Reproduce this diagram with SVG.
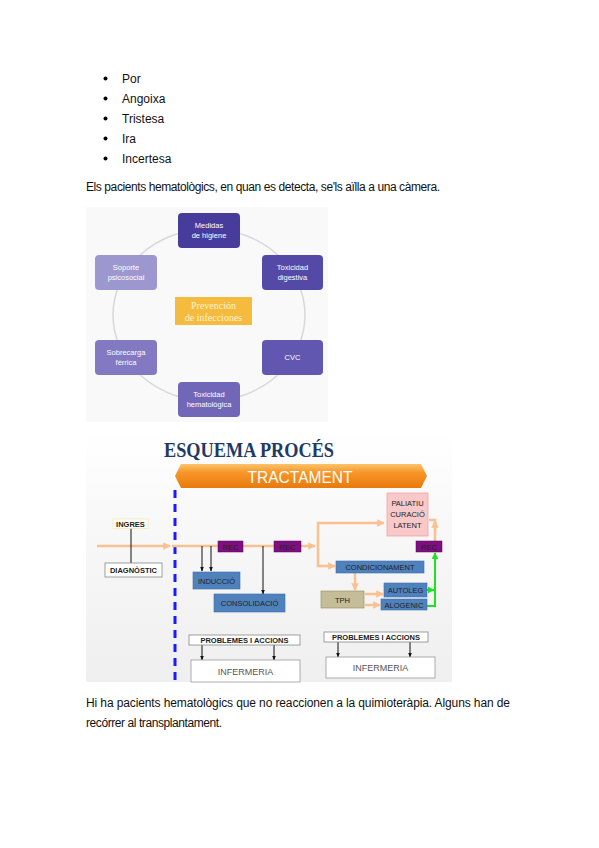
<svg xmlns="http://www.w3.org/2000/svg" width="599" height="848" viewBox="0 0 599 848">
<style>
.t{font-family:"Liberation Sans",Arial,sans-serif;font-size:12px;fill:#111}
.w{font-family:"Liberation Sans",Arial,sans-serif;font-size:7.5px;fill:#fff;text-anchor:middle}
.s{font-family:"Liberation Sans",Arial,sans-serif;font-size:7.5px;fill:#222;text-anchor:middle}
.sb{font-family:"Liberation Sans",Arial,sans-serif;font-size:7.5px;fill:#222;text-anchor:middle;font-weight:bold}
.blue{fill:#4f81bd;stroke:#3d6ea8;stroke-width:0.6}
.rec{fill:#7f0f80;stroke:#5a005a;stroke-width:0.5}
.or{fill:none;stroke:#fbc08f;stroke-width:2.5}
.bk{fill:none;stroke:#111;stroke-width:1}
.gr{fill:none;stroke:#22e022;stroke-width:2}
.wb{fill:#fff;stroke:#888;stroke-width:0.8}
</style>
<defs>
<marker id="ao" viewBox="0 0 10 10" refX="9" refY="5" markerWidth="3" markerHeight="3" orient="auto"><path d="M0,0 L10,5 L0,10 z" fill="#fbc08f"/></marker>
<marker id="ab" viewBox="0 0 10 10" refX="9" refY="5" markerWidth="5" markerHeight="5" orient="auto"><path d="M0,1 L10,5 L0,9 z" fill="#111"/></marker>
<marker id="ag" viewBox="0 0 10 10" refX="9" refY="5" markerWidth="3.5" markerHeight="3.5" orient="auto"><path d="M0,0 L10,5 L0,10 z" fill="#22e022"/></marker>
<linearGradient id="ban" x1="0" y1="0" x2="0" y2="1"><stop offset="0" stop-color="#fcc46a"/><stop offset="0.35" stop-color="#f8962a"/><stop offset="1" stop-color="#e87a0c"/></linearGradient>
<linearGradient id="bg2" x1="0" y1="0" x2="0" y2="1"><stop offset="0" stop-color="#ffffff"/><stop offset="0.3" stop-color="#f9f9f9"/><stop offset="1" stop-color="#efefef"/></linearGradient>
</defs>
<rect width="599" height="848" fill="#fff"/>

<!-- Bullet list -->
<g id="bullets">
<circle cx="105.5" cy="78.5" r="2"/><text class="t" x="122" y="83">Por</text>
<circle cx="105.5" cy="98.5" r="2"/><text class="t" x="122" y="103">Angoixa</text>
<circle cx="105.5" cy="118.5" r="2"/><text class="t" x="122" y="123">Tristesa</text>
<circle cx="105.5" cy="138.5" r="2"/><text class="t" x="122" y="143">Ira</text>
<circle cx="105.5" cy="158.5" r="2"/><text class="t" x="122" y="163">Incertesa</text>
</g>
<text class="t" x="86" y="191" textLength="354" lengthAdjust="spacing">Els pacients hematològics, en quan es detecta, se'ls aïlla a una càmera.</text>

<!-- Prevención diagram -->
<g id="prevencion">
<rect x="86" y="207" width="242" height="215" fill="#f9f9f9"/>
<ellipse cx="209" cy="315" rx="96" ry="86" fill="none" stroke="#d8d8dc" stroke-width="1.5"/>
<g id="medidas"><rect x="178" y="213" width="62" height="35" rx="4" fill="#473c9c"/><text class="w" x="209" y="228">Medidas</text><text class="w" x="209" y="238">de higiene</text></g>
<g id="tox-dig"><rect x="262" y="255" width="61" height="35" rx="4" fill="#5449a6"/><text class="w" x="292.5" y="270">Toxicidad</text><text class="w" x="292.5" y="280">digestiva</text></g>
<g id="cvc"><rect x="262" y="340" width="61" height="35" rx="4" fill="#6257b0"/><text class="w" x="292.5" y="360">CVC</text></g>
<g id="tox-hem"><rect x="178" y="382" width="62" height="35" rx="4" fill="#7167b9"/><text class="w" x="209" y="397">Toxicidad</text><text class="w" x="209" y="407">hematológica</text></g>
<g id="sobrecarga"><rect x="95" y="340" width="62" height="35" rx="4" fill="#8279c2"/><text class="w" x="126" y="355">Sobrecarga</text><text class="w" x="126" y="365">férrica</text></g>
<g id="soporte"><rect x="95" y="255" width="62" height="35" rx="4" fill="#9d97cf"/><text class="w" x="126" y="270">Soporte</text><text class="w" x="126" y="280">psicosocial</text></g>
<g id="centro"><rect x="175" y="297" width="77" height="28" fill="#f5bb3f"/>
<text x="213.5" y="309" font-family="'Liberation Serif',serif" font-size="10" fill="#fff4cf" text-anchor="middle">Prevención</text>
<text x="213.5" y="321" font-family="'Liberation Serif',serif" font-size="10" fill="#fff4cf" text-anchor="middle">de infecciones</text></g>
</g>

<!-- Esquema procés -->
<g id="esquema">
<rect x="86" y="433" width="366" height="249" fill="url(#bg2)"/>
<text x="164" y="457" font-family="'Liberation Serif',serif" font-size="20" font-weight="bold" fill="#1f3a64" textLength="170" lengthAdjust="spacingAndGlyphs">ESQUEMA PROCÉS</text>
<g id="tractament">
<polygon points="175,476 181,464 421,464 427,476 421,488 181,488" fill="url(#ban)"/>
<text x="300" y="482.5" font-family="'Liberation Sans',Arial,sans-serif" font-size="16" fill="#fff" text-anchor="middle" textLength="105" lengthAdjust="spacingAndGlyphs">TRACTAMENT</text>
</g>
<line x1="175" y1="490" x2="175" y2="680" stroke="#1a1aff" stroke-width="3" stroke-dasharray="8,6"/>

<g id="connectors">
<line class="or" x1="97" y1="546" x2="170" y2="546" marker-end="url(#ao)"/>
<line class="or" x1="172" y1="546" x2="218" y2="546"/>
<line class="or" x1="243" y1="546" x2="274" y2="546"/>
<line class="or" x1="301" y1="546" x2="315" y2="546" marker-end="url(#ao)"/>
<polyline class="or" points="318,546 318,523 384,523" marker-end="url(#ao)"/>
<polyline class="or" points="318,546 318,566 335,566" marker-end="url(#ao)"/>
<line class="or" x1="355" y1="573" x2="355" y2="590" marker-end="url(#ao)"/>
<line class="or" x1="365" y1="594" x2="383" y2="594" marker-end="url(#ao)"/>
<line class="or" x1="365" y1="605" x2="380" y2="605" marker-end="url(#ao)"/>
<polyline class="or" points="435,541 435,520 429,520" />
<line class="or" x1="435" y1="530" x2="435" y2="521" marker-end="url(#ao)"/>
<polyline class="gr" points="427,606 435,606 435,553" marker-end="url(#ag)"/>
<line class="gr" x1="427" y1="590" x2="434" y2="590" marker-end="url(#ag)"/>
<line class="bk" x1="131" y1="528" x2="131" y2="563"/>
<line class="bk" x1="202" y1="546" x2="202" y2="571" marker-end="url(#ab)"/>
<line class="bk" x1="211" y1="546" x2="211" y2="571" marker-end="url(#ab)"/>
<line class="bk" x1="263" y1="546" x2="263" y2="594" marker-end="url(#ab)"/>
<line class="bk" x1="202" y1="645" x2="202" y2="660" marker-end="url(#ab)"/>
<line class="bk" x1="274" y1="645" x2="274" y2="660" marker-end="url(#ab)"/>
<line class="bk" x1="338" y1="642" x2="338" y2="657" marker-end="url(#ab)"/>
<line class="bk" x1="410" y1="642" x2="410" y2="657" marker-end="url(#ab)"/>
</g>

<g id="ingres"><rect x="113" y="519" width="35" height="9.5" fill="#fffff0" stroke="#eee4b0" stroke-width="0.6"/><text class="sb" x="130.5" y="526.5">INGRES</text></g>
<g id="diagnostic"><rect x="105" y="563" width="57" height="14" class="wb"/><text class="sb" x="133.5" y="573">DIAGNÒSTIC</text></g>
<g id="rec1"><rect x="218" y="541" width="25" height="11" class="rec"/><text class="s" x="230.5" y="549.5" fill="#3a003a">REC</text></g>
<g id="rec2"><rect x="274" y="541" width="27" height="11" class="rec"/><text class="s" x="287.5" y="549.5" fill="#3a003a">REC</text></g>
<g id="rec3"><rect x="416" y="541" width="26" height="11" class="rec"/><text class="s" x="429" y="549.5" fill="#3a003a">REC</text></g>
<g id="induccio"><rect x="193" y="572" width="47" height="17" class="blue"/><text class="s" x="216.5" y="583.5">INDUCCIÓ</text></g>
<g id="consolidacio"><rect x="214" y="594" width="71" height="18" class="blue"/><text class="s" x="249.5" y="606">CONSOLIDACIÓ</text></g>
<g id="paliatiu"><rect x="387" y="493" width="41" height="43" fill="#f9c8c8" stroke="#f2a4a4" stroke-width="0.8"/>
<text class="s" x="407.5" y="506">PALIATIU</text><text class="s" x="407.5" y="517">CURACIÓ</text><text class="s" x="407.5" y="528">LATENT</text></g>
<g id="condicionament"><rect x="336" y="561" width="88" height="12" class="blue"/><text class="s" x="380" y="570">CONDICIONAMENT</text></g>
<g id="tph"><rect x="321" y="591" width="43" height="17" fill="#c4bd97" stroke="#948a54" stroke-width="0.6"/><text class="s" x="342.5" y="602.5" fill="#c0504d">TPH</text></g>
<g id="autoleg"><rect x="384" y="583" width="43" height="14" class="blue"/><text class="s" x="405.5" y="593">AUTOLEG</text></g>
<g id="alogenic"><rect x="381" y="599" width="46" height="11" class="blue"/><text class="s" x="404" y="607.5">ALOGENIC</text></g>
<g id="problemes1"><rect x="189" y="635" width="111" height="10" class="wb"/><text class="sb" x="244.5" y="643">PROBLEMES I ACCIONS</text></g>
<g id="infermeria1"><rect x="191" y="660" width="109" height="22" fill="#fff" stroke="#999" stroke-width="0.8"/><text x="245.5" y="675" font-family="'Liberation Sans',Arial,sans-serif" font-size="9" fill="#555" text-anchor="middle">INFERMERIA</text></g>
<g id="problemes2"><rect x="324" y="632" width="104" height="10" class="wb"/><text class="sb" x="376" y="640">PROBLEMES I ACCIONS</text></g>
<g id="infermeria2"><rect x="326" y="657" width="109" height="21" fill="#fff" stroke="#999" stroke-width="0.8"/><text x="380.5" y="671" font-family="'Liberation Sans',Arial,sans-serif" font-size="9" fill="#555" text-anchor="middle">INFERMERIA</text></g>
</g>

<text class="t" x="86" y="707" textLength="424" lengthAdjust="spacing">Hi ha pacients hematològics que no reaccionen a la quimioteràpia. Alguns han de</text>
<text class="t" x="86" y="727" textLength="136" lengthAdjust="spacing">recórrer al transplantament.</text>
</svg>
